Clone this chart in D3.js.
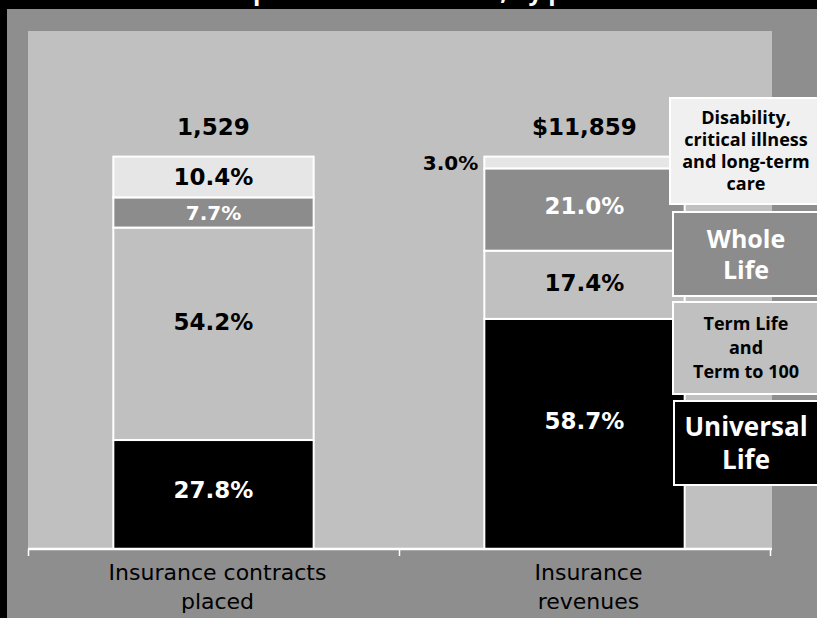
<!DOCTYPE html>
<html>
<head>
<meta charset="utf-8">
<script src="https://cdn.jsdelivr.net/npm/d3@7"></script>
<style>
  body { margin: 0; background: #000; }
  svg { display: block; }
</style>
</head>
<body>
<svg id="chart" width="817" height="618"></svg>
<script>
// Two stacked columns: share of contracts placed and of revenues by product line
const categories = ["Insurance contracts placed", "Insurance revenues"];
const categoryLines = [["Insurance contracts", "placed"], ["Insurance", "revenues"]];
const totals = ["1,529", "$11,859"];
const products = ["Universal Life", "Term Life and Term to 100", "Whole Life",
                  "Disability, critical illness and long-term care"];
const universalLife = [27.8, 58.7];
const termLife = [54.2, 17.4];
const wholeLife = [7.7, 21.0];
const disability = [10.4, 3.0];
const legendLines = [["Universal", "Life"], ["Term Life", "and", "Term to 100"],
                     ["Whole", "Life"], ["Disability,", "critical illness", "and long-term", "care"]];
const titleText = "Individual insurance placed and revenues, by product";

const fills = ["#000000", "#c0c0c0", "#8c8c8c", "#e6e6e6"];
const legendFills = ["#000000", "#c0c0c0", "#8c8c8c", "#f0f0f0"];
const inkColors = ["#ffffff", "#000000", "#ffffff", "#000000"];

const numFont = "'DejaVu Sans', Verdana, sans-serif";
const legendFont = "'Open Sans', sans-serif";

const rows = categories.map((c, i) => ({
  category: c,
  [products[0]]: universalLife[i],
  [products[1]]: termLife[i],
  [products[2]]: wholeLife[i],
  [products[3]]: disability[i]
}));

const svg = d3.select("#chart");

// frame: black strip at top/left, grey outer panel, lighter plot panel
const plot = { left: 28, right: 772, top: 31, bottom: 549 };

svg.append("text")
  .attr("x", 2).attr("y", 0)
  .attr("fill", "#fff")
  .attr("font-family", legendFont).attr("font-weight", 700).attr("font-size", 24)
  .text(titleText);

svg.append("rect").attr("x", 7).attr("y", 9).attr("width", 817).attr("height", 618)
  .attr("fill", "#8e8e8e");
svg.append("rect")
  .attr("x", plot.left).attr("y", plot.top)
  .attr("width", plot.right - plot.left).attr("height", plot.bottom - plot.top)
  .attr("fill", "#c0c0c0");

const x = d3.scaleBand()
  .domain(categories)
  .range([plot.left, plot.right - 2])
  .paddingInner(0.46)
  .paddingOuter(0.23);

const y = d3.scaleLinear().domain([0, 100]).range([plot.bottom, 157]);

const series = d3.stack().keys(products)(rows);

const layers = svg.append("g").selectAll("g")
  .data(series)
  .join("g")
  .attr("fill", (d, i) => fills[i]);

layers.selectAll("rect")
  .data(d => d)
  .join("rect")
  .attr("x", d => x(d.data.category))
  .attr("width", x.bandwidth())
  .attr("y", d => y(d[1]))
  .attr("height", d => y(d[0]) - y(d[1]))
  .attr("stroke", "#fff")
  .attr("stroke-width", 2);

// segment value labels
const seriesValues = [universalLife, termLife, wholeLife, disability];
series.forEach((s, si) => {
  s.forEach((d, ci) => {
    const label = seriesValues[si][ci];
    const top = y(d[1]), bot = y(d[0]);
    const h = bot - top;
    const small = h < 35;
    let tx = x(d.data.category) + x.bandwidth() / 2;
    let ty = (top + bot) / 2 - Math.max(0, h - 30) * 0.065;
    let anchor = "middle";
    let color = inkColors[si];
    if (h < 18) {
      // too thin for the text: place it beside the column
      tx = x(d.data.category) - 6;
      anchor = "end";
      color = "#000";
    }
    svg.append("text")
      .attr("x", tx).attr("y", ty)
      .attr("dy", "0.36em")
      .attr("text-anchor", anchor)
      .attr("fill", color)
      .attr("font-family", numFont).attr("font-weight", 700)
      .attr("font-size", small ? 20 : 23)
      .text(label.toFixed(1) + "%");
  });
});

// totals above each column
svg.append("g").selectAll("text")
  .data(categories)
  .join("text")
  .attr("x", d => x(d) + x.bandwidth() / 2)
  .attr("y", y(100) - 22.5)
  .attr("text-anchor", "middle")
  .attr("fill", "#000")
  .attr("font-family", numFont).attr("font-weight", 700).attr("font-size", 23)
  .text((d, i) => totals[i]);

// category axis with ticks on band boundaries
const edge = d3.scaleLinear().domain([0, 2]).range([plot.left, plot.right - 2]);
const axis = svg.append("g")
  .attr("transform", `translate(0,${plot.bottom})`)
  .call(d3.axisBottom(edge).tickValues([0, 1, 2]).tickSize(7).tickFormat(""));
axis.select(".domain").attr("stroke", "#fff").attr("stroke-width", 2.5)
  .attr("d", `M${plot.left},0H${plot.right}`);
axis.selectAll(".tick line").attr("stroke", "#fff").attr("stroke-width", 1.5);

const catLabels = svg.append("g").selectAll("text")
  .data(categories)
  .join("text")
  .attr("x", d => x(d) + x.bandwidth() / 2 + 4)
  .attr("text-anchor", "middle")
  .attr("fill", "#000")
  .attr("font-family", "'DejaVu Sans', sans-serif").attr("font-size", 22);
catLabels.selectAll("tspan")
  .data((d, i) => categoryLines[i])
  .join("tspan")
  .attr("x", function () { return this.parentNode.getAttribute("x"); })
  .attr("y", (d, j) => 580 + j * 29)
  .text(d => d);

// legend boxes on the right, top entry first
const legendBoxes = [
  { key: 3, x: 670, y0: 98, y1: 204, size: 18, step: 22 },
  { key: 2, x: 673, y0: 212, y1: 296, size: 25, step: 31 },
  { key: 1, x: 673, y0: 302, y1: 394, size: 18, step: 24 },
  { key: 0, x: 674, y0: 401, y1: 485, size: 26, step: 33 }
];
const legend = svg.append("g").selectAll("g")
  .data(legendBoxes)
  .join("g");
legend.append("rect")
  .attr("x", d => d.x).attr("y", d => d.y0)
  .attr("width", 170).attr("height", d => d.y1 - d.y0)
  .attr("fill", d => legendFills[d.key])
  .attr("stroke", "#fff").attr("stroke-width", 2);
legend.each(function (d) {
  const lines = legendLines[d.key];
  const cy = (d.y0 + d.y1) / 2;
  const first = cy - (lines.length - 1) * d.step / 2;
  d3.select(this).selectAll("text")
    .data(lines)
    .join("text")
    .attr("x", 746)
    .attr("y", (t, j) => first + j * d.step)
    .attr("dy", "0.36em")
    .attr("text-anchor", "middle")
    .attr("fill", inkColors[d.key])
    .attr("font-family", legendFont).attr("font-weight", 700)
    .attr("font-size", d.size)
    .text(t => t);
});
</script>
</body>
</html>
